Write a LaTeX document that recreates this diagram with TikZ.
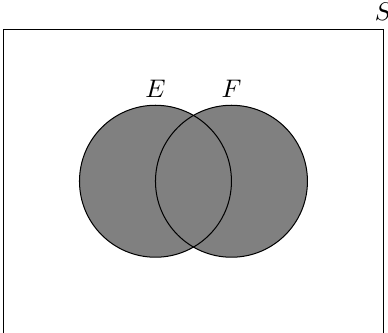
\documentclass[tikz,border=0pt]{standalone}
\usepackage{tikz}
\usetikzlibrary{positioning}

\begin{document}
\begin{tikzpicture}[
      x=1.05cm, y=1.05cm,
      setfill/.style={fill=gray},
      setline/.style={draw=black, thin}
  ]
      \useasboundingbox (-2.046,-1.985) rectangle (3.06,2.385);

      % Espaco amostral
      \draw[thin] (-2,-2) rectangle (3,2);
      \node[above] (s) at (3,2) {$S$};

      % Eventos E e F
      \fill[setfill] (0,0) circle (1);
      \fill[setfill] (1,0) circle (1);
      \draw[setline] (0,0) circle (1);
      \draw[setline] (1,0) circle (1);

      \node (e) at (0,1.22) {$E$};
      \node (f) at (1,1.22) {$F$};
  \end{tikzpicture}
\end{document}
